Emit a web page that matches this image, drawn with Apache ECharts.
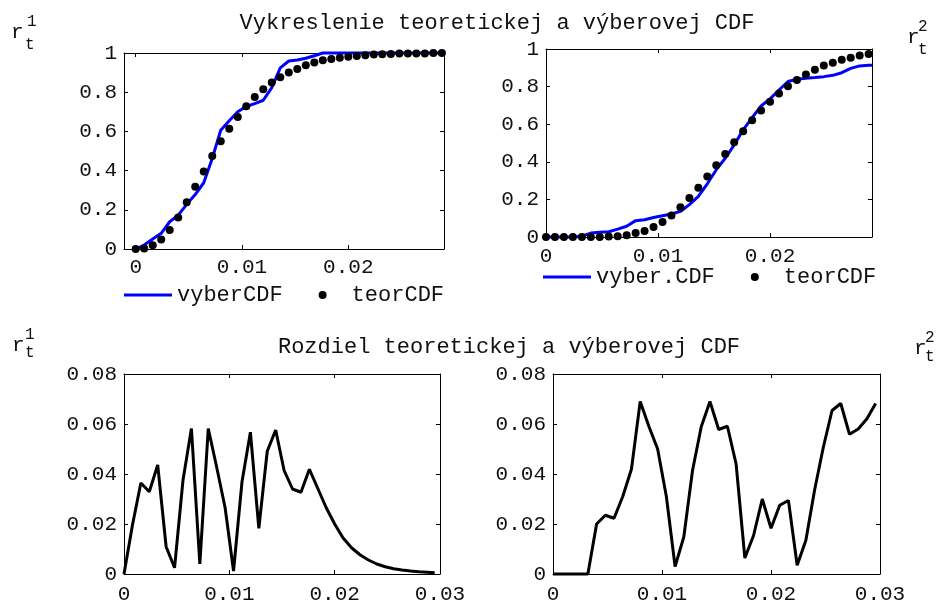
<!DOCTYPE html>
<html><head><meta charset="utf-8">
<script src="https://cdn.jsdelivr.net/npm/echarts@6/dist/echarts.min.js"></script>
<style>html,body{margin:0;padding:0;background:#fff}#c{width:942px;height:605px}</style>
</head><body><div id="c"></div>
<script>
const FONT = 'Liberation Mono';
const TXT = '#111';

// sample positions of the CDF points
const cdfX = [0,0.0008,0.0016,0.0024,0.0032,0.004,0.0048,0.0056,0.0064,0.0072,0.008,0.0088,0.0096,0.0104,0.0112,0.012,0.0128,0.0136,0.0144,0.0152,0.016,0.0168,0.0176,0.0184,0.0192,0.02,0.0208,0.0216,0.0224,0.0232,0.024,0.0248,0.0256,0.0264,0.0272,0.028,0.0288];

// r_t^1 : theoretical CDF (dots) and sample CDF (line)
const tlTeorY = [0,0.003,0.019,0.049,0.097,0.161,0.238,0.317,0.396,0.474,0.550,0.613,0.674,0.728,0.776,0.815,0.849,0.876,0.900,0.918,0.937,0.952,0.963,0.969,0.976,0.981,0.985,0.988,0.992,0.993,0.995,0.997,0.997,0.998,0.998,1,1];
const tlVyberX = [0,0.0008,0.0016,0.0024,0.0032,0.004,0.0048,0.0056,0.0064,0.0072,0.008,0.0088,0.0096,0.0104,0.0112,0.012,0.0128,0.0136,0.0144,0.0152,0.016,0.0168,0.0176,0.029];
const tlVyberY = [0,0.020,0.051,0.080,0.139,0.173,0.228,0.278,0.338,0.462,0.606,0.654,0.700,0.727,0.742,0.759,0.823,0.924,0.959,0.964,0.973,0.986,1,1];

// r_t^2
const trTeorY = [0,0,0,0,0,0,0,0.002,0.004,0.009,0.021,0.032,0.053,0.080,0.115,0.158,0.207,0.262,0.322,0.381,0.442,0.504,0.563,0.621,0.673,0.720,0.763,0.802,0.835,0.865,0.890,0.912,0.927,0.943,0.954,0.965,0.973];
const trVyberX = [0,0.0008,0.0016,0.0024,0.0032,0.004,0.0048,0.0056,0.0064,0.0072,0.008,0.0088,0.0096,0.0104,0.0112,0.012,0.0128,0.0136,0.0144,0.0152,0.016,0.0168,0.0176,0.0184,0.0192,0.02,0.0208,0.0216,0.0224,0.0232,0.024,0.0248,0.0256,0.0264,0.0272,0.028,0.0288,0.0291];
const trVyberY = [0,0,0,0,0.004,0.021,0.025,0.028,0.042,0.057,0.087,0.092,0.104,0.113,0.122,0.136,0.172,0.216,0.283,0.358,0.419,0.490,0.570,0.635,0.697,0.735,0.782,0.827,0.839,0.844,0.848,0.853,0.860,0.874,0.897,0.910,0.913,0.913];

// differences
const blDiffX = [0,0.0008,0.0016,0.0024,0.0032,0.004,0.0048,0.0056,0.0064,0.0072,0.008,0.0088,0.0096,0.0104,0.0112,0.012,0.0128,0.0136,0.0144,0.0152,0.016,0.0168,0.0176,0.0184,0.0192,0.02,0.0208,0.0216,0.0224,0.0232,0.024,0.0248,0.0256,0.0264,0.0272,0.028,0.0288,0.0295];
const blDiffY = [0,0.0195,0.0364,0.0329,0.0436,0.0109,0.0025,0.0375,0.0582,0.0040,0.0582,0.0427,0.0265,0.0012,0.0368,0.0567,0.0183,0.0491,0.0576,0.0414,0.0340,0.0327,0.0419,0.0342,0.0265,0.0200,0.0144,0.0105,0.0077,0.0056,0.0040,0.0029,0.0021,0.0016,0.0012,0.0009,0.0007,0.0005];
const brDiffX = [0,0.0008,0.0016,0.0024,0.0032,0.004,0.0048,0.0056,0.0064,0.0072,0.008,0.0088,0.0096,0.0104,0.0112,0.012,0.0128,0.0136,0.0144,0.0152,0.016,0.0168,0.0176,0.0184,0.0192,0.02,0.0208,0.0216,0.0224,0.0232,0.024,0.0248,0.0256,0.0264,0.0272,0.028,0.0288,0.0296];
const brDiffY = [0,0,0,0,0,0.0200,0.0235,0.0223,0.0310,0.0420,0.0690,0.0590,0.0500,0.0310,0.0030,0.0148,0.0414,0.0589,0.0690,0.0578,0.0591,0.0440,0.0064,0.0154,0.0300,0.0183,0.0275,0.0294,0.0035,0.0135,0.0336,0.0507,0.0654,0.0682,0.0559,0.0580,0.0621,0.0682];

// tick labels
const cdfTicksX = [0, 0.01, 0.02];
const cdfTicksY = [0, 0.2, 0.4, 0.6, 0.8, 1];
const diffTicksX = [0, 0.01, 0.02, 0.03];
const diffTicksY = [0, 0.02, 0.04, 0.06, 0.08];

const zip = (xs, ys) => xs.map((x, i) => [x, ys[i]]);

const grids = [
  {left: 124, top: 53, width: 320, height: 196},
  {left: 546, top: 49, width: 326, height: 188},
  {left: 124, top: 374, width: 316, height: 206},
  {left: 553, top: 374, width: 327, height: 206}
];
const ranges = [
  {x: [-0.0011, 0.029], y: [0, 1], tx: cdfTicksX, ty: cdfTicksY, m: 8},
  {x: [0, 0.0291], y: [0, 1], tx: cdfTicksX, ty: cdfTicksY, m: 9},
  {x: [0, 0.03], y: [0, 0.08], tx: diffTicksX, ty: diffTicksY, m: 10},
  {x: [0, 0.03], y: [0, 0.08], tx: diffTicksX, ty: diffTicksY, m: 10}
];

function axis(g, min, max, ticks, pos, showLabel, margin) {
  return {
    type: 'value', gridIndex: g, min: min, max: max, position: pos,
    axisLine: {show: true, onZero: false, lineStyle: {color: '#000', width: 1}},
    axisTick: {show: true, inside: true, length: 4, customValues: ticks, lineStyle: {color: '#000', width: 1}},
    axisLabel: {show: showLabel, customValues: ticks, margin: margin, color: TXT, fontFamily: FONT, fontSize: 21,
      formatter: v => String(+v.toFixed(4))},
    splitLine: {show: false}
  };
}
const xAxes = [], yAxes = [];
ranges.forEach((r, g) => {
  xAxes.push(axis(g, r.x[0], r.x[1], r.tx, 'bottom', true, r.m));
  xAxes.push(axis(g, r.x[0], r.x[1], r.tx, 'top', false, 7));
  yAxes.push(axis(g, r.y[0], r.y[1], r.ty, 'left', true, 7));
  yAxes.push(axis(g, r.y[0], r.y[1], r.ty, 'right', false, 7));
});

const dotStyle = {color: '#000', opacity: 1};
const series = [
  {name: 'vyberCDF', type: 'line', xAxisIndex: 0, yAxisIndex: 0, data: zip(tlVyberX, tlVyberY),
    symbol: 'none', clip: false, lineStyle: {color: '#0000ff', width: 3}, itemStyle: {color: '#0000ff'}, z: 2},
  {name: 'teorCDF', type: 'scatter', xAxisIndex: 0, yAxisIndex: 0, data: zip(cdfX, tlTeorY),
    symbolSize: 8, itemStyle: dotStyle, clip: false, z: 3},
  {name: 'vyber.CDF', type: 'line', xAxisIndex: 2, yAxisIndex: 2, data: zip(trVyberX, trVyberY),
    symbol: 'none', clip: false, lineStyle: {color: '#0000ff', width: 3}, itemStyle: {color: '#0000ff'}, z: 2},
  {name: 'teorCDF', type: 'scatter', xAxisIndex: 2, yAxisIndex: 2, data: zip(cdfX, trTeorY),
    symbolSize: 8, itemStyle: dotStyle, clip: false, z: 3},
  {name: 'rozdiel1', type: 'line', xAxisIndex: 4, yAxisIndex: 4, data: zip(blDiffX, blDiffY),
    symbol: 'none', clip: false, lineStyle: {color: '#000', width: 3}},
  {name: 'rozdiel2', type: 'line', xAxisIndex: 6, yAxisIndex: 6, data: zip(brDiffX, brDiffY),
    symbol: 'none', clip: false, lineStyle: {color: '#000', width: 3}}
];

const lineIcon = 'path://M0 0H48V3H0Z';
const dotIcon = 'path://M0 4L0.01 4M48 4L47.99 4M20 4A4 4 0 1 0 28 4A4 4 0 1 0 20 4Z';
const legendBase = {
  orient: 'horizontal', padding: 0, itemWidth: 48, itemHeight: 8, itemGap: 16, selectedMode: false,
  textStyle: {color: TXT, fontFamily: FONT, fontSize: 22}
};

function label(x, y, text, size) {
  return {type: 'text', x: x, y: y, style: {text: text, font: size + 'px "' + FONT + '"', fill: TXT, align: 'left', verticalAlign: 'middle'}};
}
function center(x, y, text) {
  return {type: 'text', x: x, y: y, style: {text: text, font: '22px "' + FONT + '"', fill: TXT, align: 'center', verticalAlign: 'middle'}};
}

const option = {
  animation: false,
  backgroundColor: '#fff',
  grid: grids,
  xAxis: xAxes,
  yAxis: yAxes,
  legend: [
    Object.assign({}, legendBase, {left: 124, top: 284,
      data: [{name: 'vyberCDF', icon: lineIcon, itemStyle: {color: '#0000ff', opacity: 1}},
             {name: 'teorCDF', icon: dotIcon, itemStyle: {color: '#000', opacity: 1}}]}),
    Object.assign({}, legendBase, {left: 543, top: 266,
      data: [{name: 'vyber.CDF', icon: lineIcon, itemStyle: {color: '#0000ff', opacity: 1}},
             {name: 'teorCDF', icon: dotIcon, itemStyle: {color: '#000', opacity: 1}}]})
  ],
  series: series,
  graphic: [
    center(497, 23, 'Vykreslenie teoretickej a výberovej CDF'),
    center(509, 347, 'Rozdiel teoretickej a výberovej CDF'),
    label(11, 32, 'r', 21), label(27, 22, '1', 16), label(25, 45, 't', 16),
    label(907, 37, 'r', 21), label(918, 27, '2', 16), label(918, 50, 't', 16),
    label(12, 345, 'r', 21), label(25, 335, '1', 16), label(25, 353, 't', 16),
    label(914, 348, 'r', 21), label(925, 338, '2', 16), label(925, 357, 't', 16)
  ]
};
const chart = echarts.init(document.getElementById('c'), null, {renderer: 'canvas'});
chart.setOption(option);
</script>
</body></html>
